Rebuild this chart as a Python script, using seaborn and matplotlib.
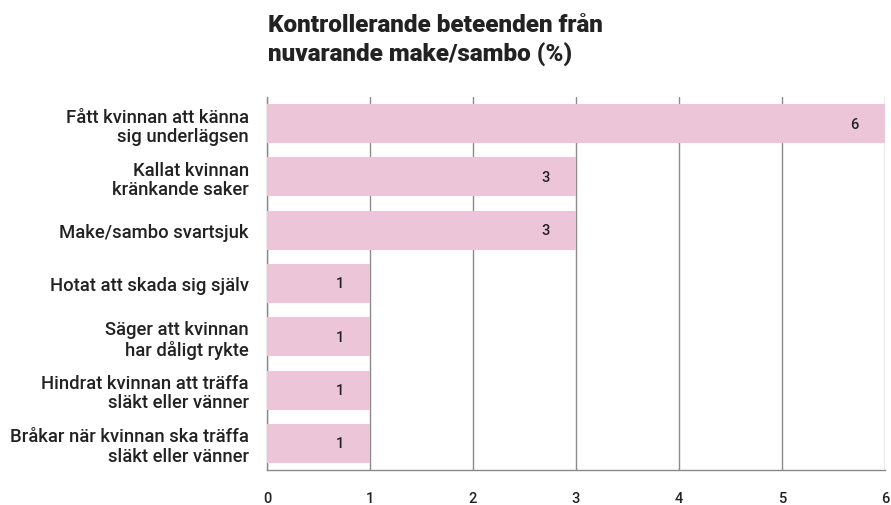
import matplotlib
matplotlib.use("Agg")
import matplotlib.pyplot as plt
import seaborn as sns
import pandas as pd

categories = [
    "Fått kvinnan att känna\nsig underlägsen",
    "Kallat kvinnan\nkränkande saker",
    "Make/sambo svartsjuk",
    "Hotat att skada sig själv",
    "Säger att kvinnan\nhar dåligt rykte",
    "Hindrat kvinnan att träffa\nsläkt eller vänner",
    "Bråkar när kvinnan ska träffa\nsläkt eller vänner",
]
values = [6, 3, 3, 1, 1, 1, 1]
xticks = [0, 1, 2, 3, 4, 5, 6]
title = "Kontrollerande beteenden från\nnuvarande make/sambo (%)"

df = pd.DataFrame({"cat": categories, "val": values})

sns.set_theme(style="white")
plt.rcParams["font.family"] = ["Roboto", "DejaVu Sans"]

fig = plt.figure(figsize=(8.91, 5.06), dpi=100)
ax = fig.add_axes([0.2997, 0.0692, 0.6936, 0.7371])

sns.barplot(data=df, x="val", y="cat", color="#ECC5D8", saturation=1,
            width=0.73, ax=ax, zorder=3, linewidth=0)

ax.set_xlim(0, 6)
ax.set_ylim(6.5, -0.5)
ax.set_xticks(xticks)
ax.set_xticklabels([str(t) for t in xticks], fontsize=10.5, fontweight="medium", color="#222222")
ax.tick_params(axis="x", length=0, pad=15)
ax.tick_params(axis="y", length=0, pad=13)
for lbl in ax.get_yticklabels():
    lbl.set_fontsize(13.3)
    lbl.set_fontweight("medium")
    lbl.set_color("#222222")
    lbl.set_horizontalalignment("right")
    lbl.set_linespacing(1.1)
ax.set_xlabel("")
ax.set_ylabel("")

ax.grid(axis="x", color="#8a8a8a", linewidth=1, zorder=1)
ax.grid(axis="y", visible=False)
for s in ["top", "right"]:
    ax.spines[s].set_visible(False)
ax.spines["left"].set_color("#8a8a8a")
ax.spines["bottom"].set_color("#8a8a8a")
ax.spines["left"].set_linewidth(1)
ax.spines["bottom"].set_linewidth(1)
ax.set_axisbelow(True)

for i, v in enumerate(values):
    ax.annotate(str(v), xy=(v, i), xytext=(-22, 0), textcoords="offset points",
                ha="center", va="center", fontsize=10.5, fontweight="medium",
                color="#222222", zorder=4)

fig.text(0.3008, 0.972, title, ha="left", va="top", fontsize=17.5,
         fontweight="heavy", color="#222222", linespacing=1.3)

fig.savefig("out.png", dpi=100, facecolor="white")
